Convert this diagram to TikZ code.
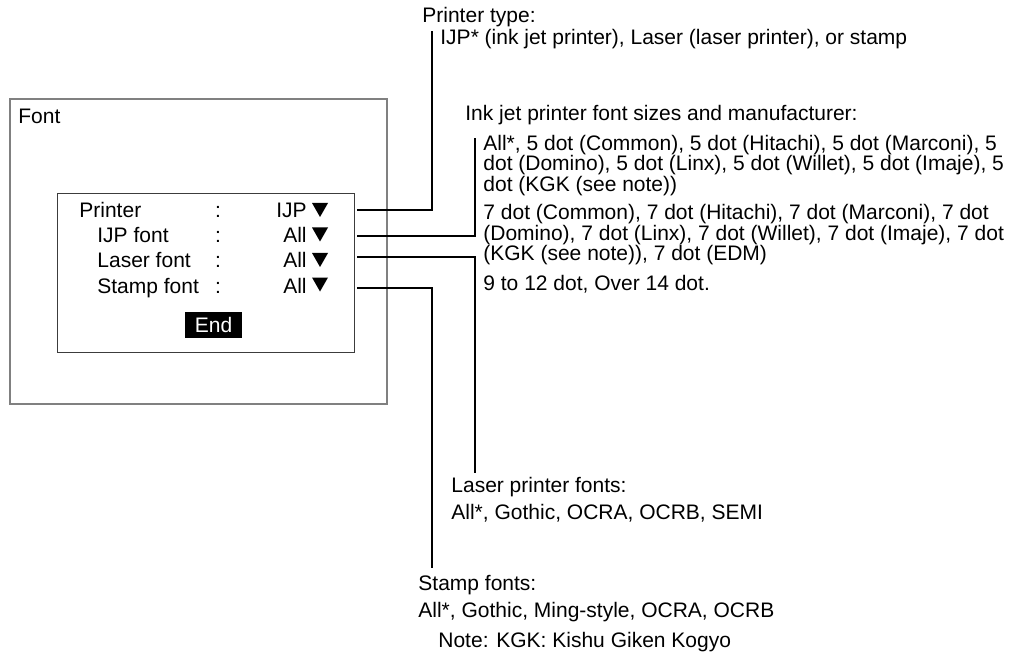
\documentclass[tikz,border=0pt]{standalone}
\usepackage{fontspec}
\setmainfont{Liberation Sans}
\usepackage{tikz}
\definecolor{screengray}{RGB}{128,128,128}
\definecolor{panelgray}{RGB}{60,60,60}
\usetikzlibrary{positioning}

\begin{document}
\begin{tikzpicture}[
    x=0.5pt, y=-0.5pt,
    txt/.style={font=\fontsize{10.5}{12}\selectfont, inner sep=0pt, anchor=base west},
    val/.style={txt, anchor=base east},
    colon/.style={txt, anchor=base},
    conn/.style={draw=black, line width=1.2pt},
    dropmark/.pic={\fill (-8,-7) -- (8,-7) -- (0,7) -- cycle;}
]
\useasboundingbox (0,0) rectangle (1022,668);

% screen and panel
\node[draw=screengray, line width=1pt, minimum width=188.5pt, minimum height=152.5pt, anchor=north west, inner sep=0pt] (screen) at (9,98) {};
\node[txt] (title) at (18,123.5) {Font};
\node[draw=panelgray, line width=0.7pt, minimum width=148.5pt, minimum height=79.5pt, anchor=north west, inner sep=0pt] (panel) at (57,193) {};

\node[txt] (rowP) at (79,217.5) {Printer};
\node[txt] (rowI) at (97,242.5) {IJP font};
\node[txt] (rowL) at (97,267.5) {Laser font};
\node[txt] (rowS) at (97,293.5) {Stamp font};
\node[colon] (colP) at (218,217.5) {:};
\node[colon] (colI) at (218,242.5) {:};
\node[colon] (colL) at (218,267.5) {:};
\node[colon] (colS) at (218,293.5) {:};
\node[val] (valP) at (307,217.5) {IJP};
\node[val] (valI) at (307,242.5) {All};
\node[val] (valL) at (307,267.5) {All};
\node[val] (valS) at (307,293.5) {All};
\pic at (320,210) {dropmark};
\pic at (320,234.5) {dropmark};
\pic at (320,260) {dropmark};
\pic at (320,284.5) {dropmark};
\node[fill=black, text=white, font=\fontsize{10.5}{12}\selectfont, minimum width=28.5pt, minimum height=13pt, inner sep=0pt] (endkey) at (213.5,325) {End};

% printer type
\node[txt] (ptype) at (422,22.5) {Printer type:};
\node[txt] (ptypeval) at (440,44.5) {IJP* (ink jet printer), Laser (laser printer), or stamp};

% ink jet fonts
\node[txt] (ijhead) at (465,120.5) {Ink jet printer font sizes and manufacturer:};
\node[txt] (ij1) at (483,150.5) {All*, 5 dot (Common), 5 dot (Hitachi), 5 dot (Marconi), 5};
\node[txt] (ij2) at (483,171) {dot (Domino), 5 dot (Linx), 5 dot (Willet), 5 dot (Imaje), 5};
\node[txt] (ij3) at (483,191.5) {dot (KGK (see note))};
\node[txt] (ij4) at (483,220) {7 dot (Common), 7 dot (Hitachi), 7 dot (Marconi), 7 dot};
\node[txt] (ij5) at (483,240.5) {(Domino), 7 dot (Linx), 7 dot (Willet), 7 dot (Imaje), 7 dot};
\node[txt] (ij6) at (483,261) {(KGK (see note)), 7 dot (EDM)};
\node[txt] (ij7) at (483,290.5) {9 to 12 dot, Over 14 dot.};

% laser and stamp fonts
\node[txt] (lzhead) at (451,492.5) {Laser printer fonts:};
\node[txt] (lzval) at (451,519.5) {All*, Gothic, OCRA, OCRB, SEMI};
\node[txt] (sthead) at (418,590.5) {Stamp fonts:};
\node[txt] (stval) at (418,617.5) {All*, Gothic, Ming-style, OCRA, OCRB};
\node[txt] (note) at (438,647.5) {Note: KGK: Kishu Giken Kogyo};

% connectors
\coordinate (outP) at (357,210);
\coordinate (outI) at (357,236);
\coordinate (outL) at (357,257);
\coordinate (outS) at (357,288);
\coordinate (endP) at (432,31);
\coordinate (endI) at (475,138);
\coordinate (endL) at (475,473);
\coordinate (endS) at (432,568);

\draw[conn] (outP) -| (endP);
\draw[conn] (outI) -| (endI);
\draw[conn] (outL) -| (endL);
\draw[conn] (outS) -| (endS);

\end{tikzpicture}
\end{document}
